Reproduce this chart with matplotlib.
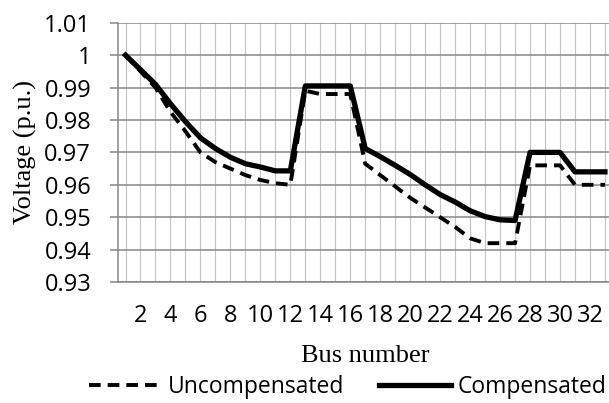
import numpy as np
import matplotlib
matplotlib.use("Agg")
import matplotlib.pyplot as plt

# bus voltage profile (p.u.)
bus = list(range(1, 34))
uncompensated = [1.000, 0.995, 0.990, 0.9825, 0.9765, 0.970, 0.967, 0.965, 0.963, 0.9615, 0.9605,
                 0.960, 0.989, 0.988, 0.988, 0.988, 0.9665, 0.963, 0.9595, 0.956, 0.953, 0.950,
                 0.947, 0.9435, 0.942, 0.942, 0.942, 0.966, 0.966, 0.966, 0.960, 0.960, 0.960]
compensated = [1.000, 0.9955, 0.991, 0.985, 0.9795, 0.9745, 0.9712, 0.9685, 0.9665, 0.9655, 0.9643,
               0.9643, 0.9905, 0.9905, 0.9905, 0.9905, 0.9712, 0.9687, 0.966, 0.9632, 0.960, 0.957,
               0.9547, 0.952, 0.9502, 0.9492, 0.949, 0.970, 0.970, 0.970, 0.964, 0.964, 0.964]
y_ticks = [0.93, 0.94, 0.95, 0.96, 0.97, 0.98, 0.99, 1.00, 1.01]
y_tick_labels = ["0.93", "0.94", "0.95", "0.96", "0.97", "0.98", "0.99", "1", "1.01"]
x_ticks = list(range(2, 33, 2))

TICK_FONT = ["Open Sans", "DejaVu Sans"]
LABEL_FONT = ["Liberation Serif", "DejaVu Serif"]

fig = plt.figure(figsize=(6.09, 4.03), dpi=100)
ax = fig.add_axes([0.1938, 0.300, 0.8062, 0.6437])

# gridlines: light vertical ones at every bus, darker horizontal ones
for b in bus:
    ax.axvline(b, color="#c4c4c4", linewidth=0.8, zorder=1)
for v in y_ticks:
    ax.axhline(v, color="#878787", linewidth=1.1, zorder=1)

ax.plot(bus, uncompensated, color="black", linewidth=2.8, linestyle=(0, (3, 1.8)),
        label="Uncompensated", zorder=3)
ax.plot(bus, compensated, color="black", linewidth=3.8, solid_joinstyle="round",
        label="Compensated", zorder=4)

ax.set_xlim(0.5, 33.27)
ax.set_ylim(0.93, 1.01)

ax.set_yticks(y_ticks)
ax.set_yticklabels(y_tick_labels)
ax.set_xticks(x_ticks)
ax.set_xticklabels([str(t) for t in x_ticks])

for spine in ["top", "right"]:
    ax.spines[spine].set_visible(False)
ax.spines["left"].set_color("#878787")
ax.spines["bottom"].set_color("#878787")
ax.spines["left"].set_linewidth(1.1)
ax.spines["bottom"].set_linewidth(1.1)

ax.tick_params(axis="y", length=5.8, width=1.1, color="#878787", pad=13.5)
ax.tick_params(axis="x", length=0, pad=15.5)
for lbl in ax.get_xticklabels() + ax.get_yticklabels():
    lbl.set_family(TICK_FONT)
    lbl.set_fontsize(17)

fig.text(0.041, 0.623, "Voltage (p.u.)", rotation=90, ha="center", va="center",
         family=LABEL_FONT, fontsize=19)
fig.text(0.599, 0.1166, "Bus number", ha="center", va="center",
         family=LABEL_FONT, fontsize=19)

fig.legend(loc="center", bbox_to_anchor=(0.571, 0.040), ncol=2, frameon=False,
           prop={"family": TICK_FONT, "size": 16.5}, handlelength=3.14,
           handletextpad=0.3, columnspacing=1.5, borderpad=0, borderaxespad=0)

fig.savefig("out.png", dpi=100)
